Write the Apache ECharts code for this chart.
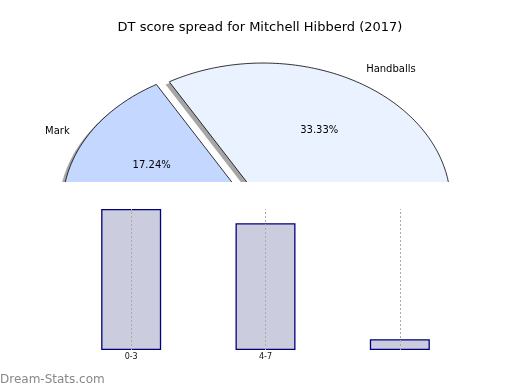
<!DOCTYPE html>
<html><head><meta charset="utf-8">
<script src="https://cdn.jsdelivr.net/npm/echarts@6/dist/echarts.min.js"></script>
<style>html,body{margin:0;padding:0;background:#fff}#c{width:520px;height:390px}</style>
</head><body><div id="c"></div>
<script>
const pieNames = ['Handballs', 'Mark', 'Kicks'];
const piePercents = [33.33, 17.24, 49.43];
const pieColors = ['#eaf1ff', '#c4d8ff', '#dbe6ff'];
const barCategories = ['0-3', '4-7', ''];
const barValues = [50.6, 45.5, 3.9];
const titleText = 'DT score spread for Mitchell Hibberd (2017)';
const watermark = 'Dream-Stats.com';

const FONT = 'DejaVu Sans';
const total = piePercents.reduce((a, b) => a + b, 0);
const explode = 0.05;
const starts = [];
let acc = 0;
piePercents.forEach(v => { starts.push(acc); acc += v / total * 360; });

function wedge(api, i, dx, dy) {
  const a0 = starts[i], a1 = starts[i] + piePercents[i] / total * 360;
  const mid = (a0 + a1) / 2 * Math.PI / 180;
  const cx = explode * Math.cos(mid) + dx, cy = explode * Math.sin(mid) + dy;
  const pts = [api.coord([cx, cy])];
  const n = Math.max(2, Math.ceil(a1 - a0));
  for (let k = 0; k <= n; k++) {
    const t = (a0 + (a1 - a0) * k / n) * Math.PI / 180;
    pts.push(api.coord([cx + Math.cos(t), cy + Math.sin(t)]));
  }
  return { pts, mid, cx, cy };
}

const chart = echarts.init(document.getElementById('c'), null, { renderer: 'canvas' });
chart.setOption({
  animation: false,
  backgroundColor: '#fff',
  title: {
    text: titleText, left: 'center', top: 16,
    textStyle: { fontFamily: FONT, fontSize: 13, fontWeight: 'normal', color: '#000' }
  },
  graphic: [{
    type: 'text', left: 0, top: 374,
    style: { text: watermark, fill: '#888', font: '12px "DejaVu Sans"' }
  }],
  grid: [
    { left: 0, top: 30, width: 520, height: 152 },
    { left: 64, top: 209, width: 403, height: 141 }
  ],
  xAxis: [
    { type: 'value', gridIndex: 0, min: -1.3776, max: 1.3957, show: false },
    {
      type: 'category', gridIndex: 1, data: barCategories, position: 'bottom',
      axisLine: { show: false },
      axisTick: { alignWithLabel: true, length: 3, lineStyle: { color: '#999' } },
      axisLabel: { fontFamily: FONT, fontSize: 8, color: '#111', margin: 3 },
      splitLine: { show: false }
    },
    {
      type: 'category', gridIndex: 1, data: barCategories, position: 'top',
      axisLine: { show: false },
      axisTick: { alignWithLabel: true, inside: true, length: 2, lineStyle: { color: '#999' } },
      axisLabel: { show: false }, splitLine: { show: false }
    }
  ],
  yAxis: [
    { type: 'value', gridIndex: 0, min: 0.1936, max: 1.2793, show: false },
    { type: 'value', gridIndex: 1, min: 0, max: 'dataMax', show: false }
  ],
  series: [
    {
      type: 'custom', xAxisIndex: 0, yAxisIndex: 0, clip: true, z: 1, silent: true,
      data: piePercents.map((v, i) => ({ name: pieNames[i], value: [v] })),
      renderItem: function (params, api) {
        const w = wedge(api, params.dataIndex, -0.02, -0.02);
        return { type: 'polygon', shape: { points: w.pts }, style: { fill: 'rgba(77,77,77,0.5)', stroke: null } };
      }
    },
    {
      type: 'custom', xAxisIndex: 0, yAxisIndex: 0, clip: true, z: 2, silent: true,
      data: piePercents.map((v, i) => ({ name: pieNames[i], value: [v] })),
      renderItem: function (params, api) {
        const i = params.dataIndex;
        const w = wedge(api, i, 0, 0);
        const c = Math.cos(w.mid), s = Math.sin(w.mid);
        const lp = api.coord([w.cx + 1.1 * c, w.cy + 1.1 * s]);
        const pp = api.coord([w.cx + 0.6 * c, w.cy + 0.6 * s]);
        const al = c >= 0 ? 'left' : 'right';
        return {
          type: 'group',
          children: [
            { type: 'polygon', shape: { points: w.pts }, style: { fill: pieColors[i], stroke: '#000', lineWidth: 0.8 } },
            { type: 'text', x: lp[0], y: lp[1], style: { text: pieNames[i], fill: '#000', font: '10px "DejaVu Sans"', align: al, verticalAlign: 'middle', textAlign: al, textVerticalAlign: 'middle' } },
            { type: 'text', x: pp[0], y: pp[1], style: { text: piePercents[i].toFixed(2) + '%', fill: '#000', font: '10px "DejaVu Sans"', align: 'center', verticalAlign: 'middle', textAlign: 'center', textVerticalAlign: 'middle' } }
          ]
        };
      }
    },
    {
      type: 'bar', xAxisIndex: 1, yAxisIndex: 1, data: barValues, barWidth: 60, z: 2,
      itemStyle: { color: '#ccccdf', borderColor: '#00007a', borderWidth: 1.3 },
      markLine: {
        silent: true, symbol: ['none', 'none'], label: { show: false },
        lineStyle: { color: '#aaa', type: [2, 2], width: 1 },
        data: barCategories.map((c, i) => ({ xAxis: i }))
      }
    }
  ]
});
</script>
</body></html>
